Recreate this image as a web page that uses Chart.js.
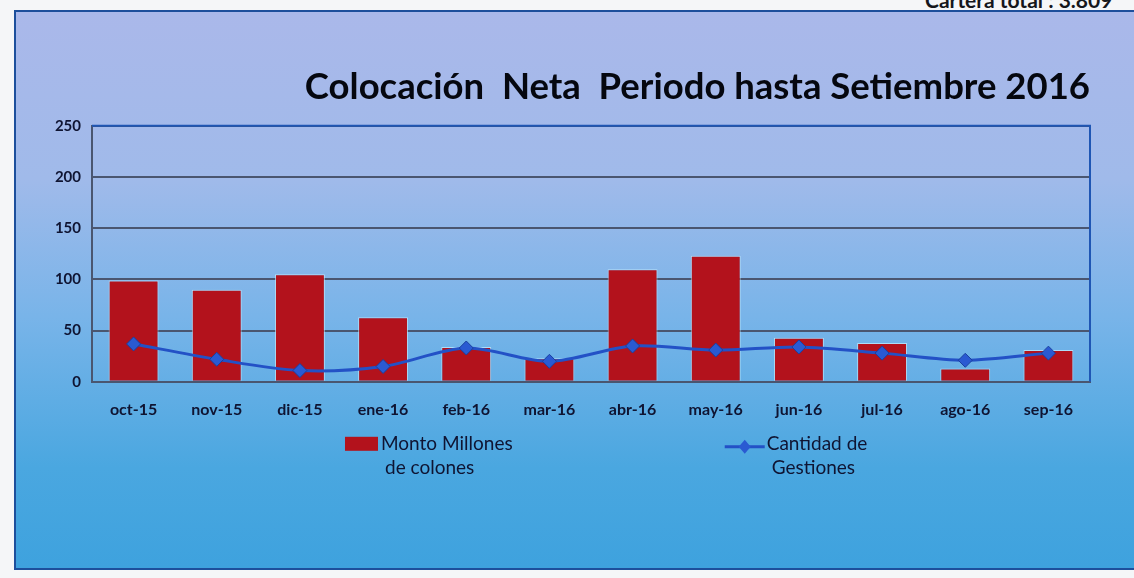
<!DOCTYPE html>
<html>
<head>
<meta charset="utf-8">
<script src="https://cdn.jsdelivr.net/npm/chart.js@4.4.1/dist/chart.umd.min.js"></script>
<style>
body { margin:0; width:1134px; height:578px; overflow:hidden; position:relative; background:#f5f6f8; font-family: Lato, sans-serif; }
#top { position:absolute; top:-13px; left:925px; font-weight:bold; font-size:21px; color:#15171c; white-space:nowrap; }
#frame { position:absolute; left:14px; top:10px; width:1130px; height:556px; border:2px solid #1d4f9c; border-right:none;
	background: linear-gradient(to bottom, #aab8ea 0%, #a0baea 30%, #78b4e9 55%, #4aa7e0 82%, #3ea2de 100%); }
#chart { position:absolute; left:0; top:0; }
</style>
</head>
<body>
<div id="top">Cartera total : 3.809</div>
<div id="frame"><canvas id="chart" width="1120" height="556"></canvas></div>
<script>
// values
var categories = ['oct-15','nov-15','dic-15','ene-16','feb-16','mar-16','abr-16','may-16','jun-16','jul-16','ago-16','sep-16'];
var montoMillones = [99, 90, 105, 63, 34, 23, 110, 123, 43, 38, 13, 31];
var cantidadGestiones = [37, 22, 11, 15, 33, 20, 35, 31, 34, 28, 21, 28];
var yTicks = [0, 50, 100, 150, 200, 250];
var legendMonto = ['Monto Millones', 'de colones'];
var legendGestiones = ['Cantidad de', 'Gestiones'];
var titleText = 'Colocación  Neta  Periodo hasta Setiembre 2016';

var RED = '#b3121c';
var BLUE = '#2351c6';
var INK = '#0f1432';

//draws the top + right blue edge of the plot
var plotEdge = {
	id: 'plotEdge',
	afterDatasetsDraw: function(chart) {
		var a = chart.chartArea, ctx = chart.ctx;
		ctx.save();
		ctx.strokeStyle = '#1f56b4';
		ctx.lineWidth = 2;
		ctx.beginPath();
		ctx.moveTo(a.left, a.top);
		ctx.lineTo(a.right, a.top);
		ctx.lineTo(a.right, a.bottom);
		ctx.stroke();
		ctx.restore();
	}
};

//legend split in two, each item with 2 text lines
var splitLegend = {
	id: 'splitLegend',
	afterDraw: function(chart) {
		var a = chart.chartArea, ctx = chart.ctx;
		var w = a.right - a.left;
		var y = a.bottom + 62;
		ctx.save();
		ctx.font = '19px Lato';
		ctx.fillStyle = INK;
		ctx.textBaseline = 'middle';

		// bar item
		var x1 = a.left + w * 0.2535;
		ctx.fillStyle = RED;
		ctx.fillRect(x1, y - 7, 33, 14);
		ctx.fillStyle = INK;
		ctx.fillText(legendMonto[0], x1 + 36, y);
		ctx.fillText(legendMonto[1], x1 + 40, y + 24);

		// line item
		var x2 = a.left + w * 0.634;
		ctx.strokeStyle = BLUE;
		ctx.lineWidth = 3;
		ctx.beginPath();
		ctx.moveTo(x2, y + 3);
		ctx.lineTo(x2 + 40, y + 3);
		ctx.stroke();
		ctx.fillStyle = '#2a5ad2';
		ctx.beginPath();
		ctx.moveTo(x2 + 20, y - 4);
		ctx.lineTo(x2 + 26, y + 3);
		ctx.lineTo(x2 + 20, y + 10);
		ctx.lineTo(x2 + 14, y + 3);
		ctx.closePath();
		ctx.fill();
		ctx.fillStyle = INK;
		ctx.fillText(legendGestiones[0], x2 + 42, y);
		ctx.fillText(legendGestiones[1], x2 + 47, y + 24);
		ctx.restore();
	}
};

window.addEventListener('load', function() {
	var ctx = document.getElementById('chart').getContext('2d');
	new Chart(ctx, {
		data: {
			labels: categories,
			datasets: [{
				type: 'line',
				label: legendGestiones.join(' '),
				data: cantidadGestiones,
				order: 0,
				borderColor: BLUE,
				borderWidth: 3,
				tension: 0.3,
				pointStyle: 'rectRot',
				pointRadius: 7,
				pointBackgroundColor: '#2a5ad2',
				pointBorderColor: '#1a3f9e',
				pointBorderWidth: 1
			}, {
				type: 'bar',
				label: legendMonto.join(' '),
				data: montoMillones,
				order: 1,
				backgroundColor: RED,
				borderColor: 'rgba(200,240,255,0.7)',
				borderWidth: 1,
				barPercentage: 0.6,
				categoryPercentage: 1
			}]
		},
		options: {
			responsive: false,
			animation: false,
			layout: { padding: { left: 0, right: 46, top: 0, bottom: 139 } },
			plugins: {
				legend: { display: false },
				tooltip: { enabled: false },
				title: {
					display: true,
					text: titleText,
					align: 'end',
					color: '#05070f',
					font: { family: 'Lato', size: 36.5, weight: 'bold' },
					padding: { top: 53, bottom: 17 }
				}
			},
			scales: {
				x: {
					grid: { display: false },
					border: { display: true, color: '#4a5670', width: 2 },
					ticks: { color: INK, font: { family: 'Lato', size: 16, weight: 'bold' }, padding: 10 }
				},
				y: {
					min: 0,
					max: 250,
					afterBuildTicks: function(scale) {
						scale.ticks = yTicks.map(function(v) { return { value: v }; });
					},
					afterFit: function(scale) { scale.width = 76; },
					grid: { color: '#4a5670', lineWidth: 2, drawTicks: false },
					border: { display: true, color: '#4a5670', width: 2 },
					ticks: { color: INK, font: { family: 'Lato', size: 15, weight: 'bold' }, padding: 11 }
				}
			}
		},
		plugins: [plotEdge, splitLegend]
	});
});
</script>
</body>
</html>
